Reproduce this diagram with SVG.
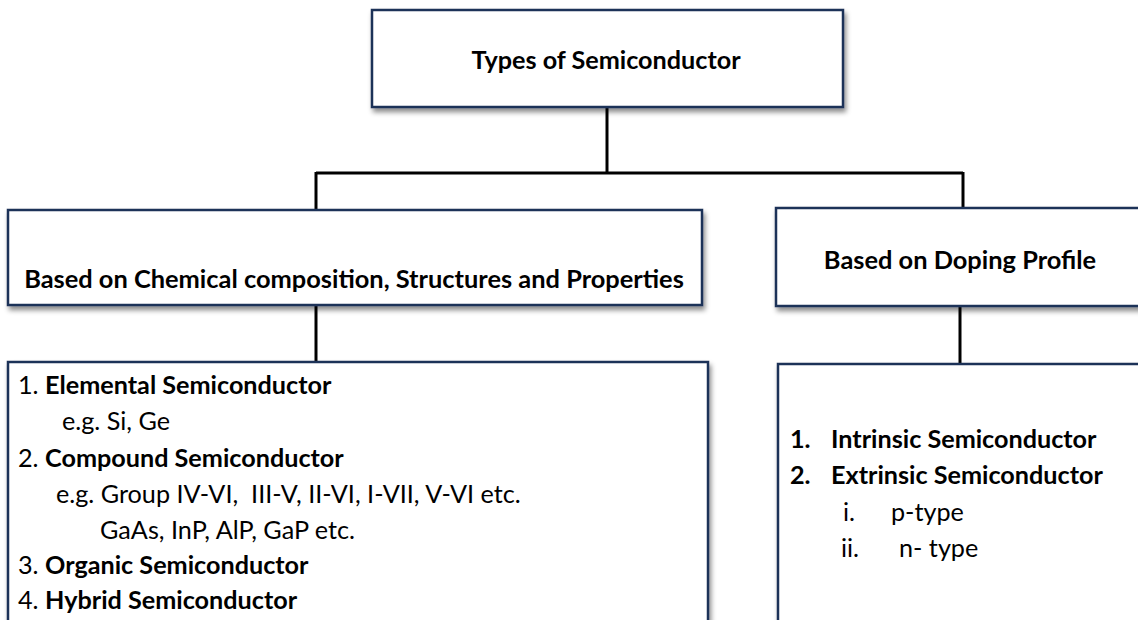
<svg xmlns="http://www.w3.org/2000/svg" width="1138" height="620" viewBox="0 0 1138 620">
  <style>
    .box { fill: #ffffff; stroke: #1f3358; stroke-width: 2.5; filter: url(#shadow); }
    .wire { fill: none; stroke: #000000; stroke-width: 3; }
    text { font-family: Lato, "Liberation Sans", sans-serif; fill: #000000; }
    .title { font-size: 25.2px; font-weight: bold; text-anchor: middle; }
    .head { font-size: 25.4px; font-weight: bold; text-anchor: middle; }
    .item { font-size: 25.2px; }
    .b { font-weight: bold; }
  </style>
  <defs>
    <filter id="shadow" x="-5%" y="-10%" width="115%" height="130%">
      <feGaussianBlur in="SourceAlpha" stdDeviation="2.5"/>
      <feOffset dx="2" dy="4" result="blur"/>
      <feFlood flood-color="#000000" flood-opacity="0.45"/>
      <feComposite in2="blur" operator="in"/>
      <feMerge>
        <feMergeNode/>
        <feMergeNode in="SourceGraphic"/>
      </feMerge>
    </filter>
  </defs>
  <rect width="1138" height="620" fill="#ffffff"/>

  <!-- connectors -->
  <g id="connectors">
    <path class="wire" d="M607 107 V173"/>
    <path class="wire" d="M316 173 H963"/>
    <path class="wire" d="M316 172 V210"/>
    <path class="wire" d="M963 172 V208"/>
    <path class="wire" d="M316 305 V362"/>
    <path class="wire" d="M960 306 V366"/>
  </g>

  <!-- root -->
  <g id="root">
    <rect class="box" x="372" y="10" width="471" height="97"/>
    <text class="title" x="606" y="69">Types of Semiconductor</text>
  </g>

  <!-- first-level categories -->
  <g id="chemical">
    <rect class="box" x="8" y="210" width="694" height="95"/>
    <text class="head" x="354" y="288">Based on Chemical composition, Structures and Properties</text>
  </g>
  <g id="doping">
    <rect class="box" x="776" y="208" width="370" height="98"/>
    <text class="head" x="960" y="269">Based on Doping Profile</text>
  </g>

  <!-- second-level lists -->
  <g id="chemical-list">
    <rect class="box" x="8" y="362" width="700" height="270"/>
    <text class="item" x="18" y="394">1. <tspan class="b">Elemental Semiconductor</tspan></text>
    <text class="item" x="62" y="430">e.g. Si, Ge</text>
    <text class="item" x="18" y="467">2. <tspan class="b">Compound Semiconductor</tspan></text>
    <text class="item" x="56" y="503" xml:space="preserve">e.g. Group IV-VI,  III-V, II-VI, I-VII, V-VI etc.</text>
    <text class="item" x="100" y="539">GaAs, InP, AlP, GaP etc.</text>
    <text class="item" x="18" y="574">3. <tspan class="b">Organic Semiconductor</tspan></text>
    <text class="item" x="18" y="609">4. <tspan class="b">Hybrid Semiconductor</tspan></text>
  </g>
  <g id="doping-list">
    <rect class="box" x="778" y="364" width="370" height="270"/>
    <text class="item b" x="790" y="448">1.</text>
    <text class="item b" x="831" y="448">Intrinsic Semiconductor</text>
    <text class="item b" x="790" y="484">2.</text>
    <text class="item b" x="831" y="484">Extrinsic Semiconductor</text>
    <text class="item" x="843" y="521">i.</text>
    <text class="item" x="891" y="521">p-type</text>
    <text class="item" x="841" y="557">ii.</text>
    <text class="item" x="899" y="557">n- type</text>
  </g>
</svg>
